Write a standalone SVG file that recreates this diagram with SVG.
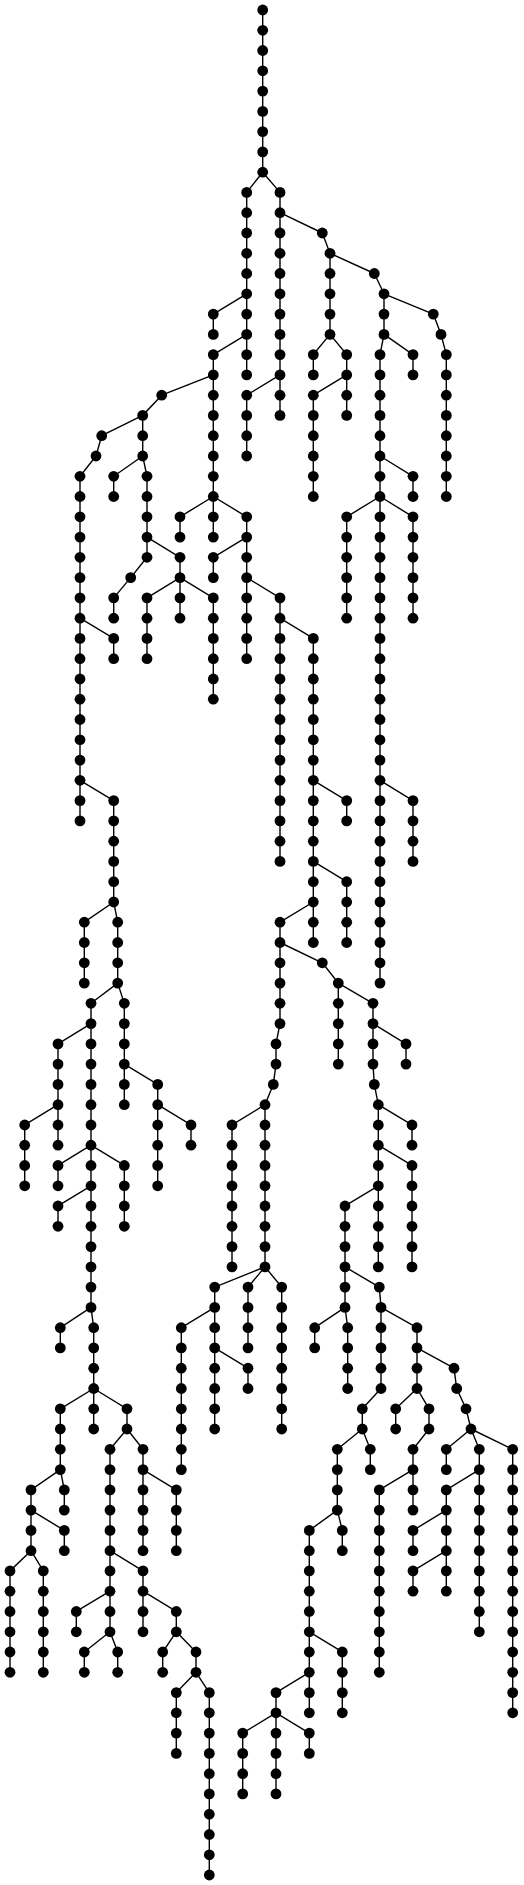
<svg xmlns="http://www.w3.org/2000/svg" width="524" height="1885" viewBox="0 0 524 1885">
<style>
#edges path{fill:none;stroke:#000;stroke-width:1.4}
circle{fill:#000}
</style>
<rect width="524" height="1885" fill="#fff"/>
<g id="edges">
<path d="M262.7 10V172.2"/>
<path d="M262.7 172.2L246.7 192.4V374.9"/>
<path d="M262.7 172.2L280 192.4V415.4"/>
<path d="M280 212.7L322.3 233"/>
<path d="M322.3 233L330 253.3V334.4"/>
<path d="M330 253.3L374.3 273.5"/>
<path d="M374.3 273.5L384 293.8V334.4"/>
<path d="M384 293.8L433.3 314.1"/>
<path d="M433.3 314.1L441 334.4"/>
<path d="M246.7 293.8L213.3 314.1V334.4"/>
<path d="M246.7 334.4L213.3 354.6V537.1"/>
<path d="M330 334.4L313.3 354.6V374.9"/>
<path d="M330 334.4L346.7 354.6V415.4"/>
<path d="M384 334.4L380 354.6V983.1"/>
<path d="M384 334.4L413 354.6V374.9"/>
<path d="M441 334.4L446.3 354.6V496.5"/>
<path d="M213.3 374.9L161.7 395.2"/>
<path d="M280 374.9L246.7 395.2V456"/>
<path d="M346.7 374.9L313.3 395.2V496.5"/>
<path d="M161.7 395.2L142.7 415.4V456"/>
<path d="M142.7 415.4L101.7 435.7"/>
<path d="M101.7 435.7L96 456"/>
<path d="M96 456L80 476.3V820.9"/>
<path d="M142.7 456L113.7 476.3V496.5"/>
<path d="M142.7 456L147 476.3V557.3"/>
<path d="M380 456L413 476.3V496.5"/>
<path d="M213.3 496.5L180 516.8V537.1"/>
<path d="M213.3 496.5L246.7 516.8V658.7"/>
<path d="M380 496.5L346.7 516.8V618.2"/>
<path d="M380 496.5L413 516.8V618.2"/>
<path d="M147 537.1L180 557.3V618.2"/>
<path d="M246.7 537.1L213.3 557.3V577.6"/>
<path d="M147 557.3L130.7 577.6"/>
<path d="M130.7 577.6L113.7 597.9V618.2"/>
<path d="M180 577.6L147 597.9V658.7"/>
<path d="M180 577.6L213.3 597.9V699.2"/>
<path d="M246.7 577.6L280 597.9V861.4"/>
<path d="M80 618.2L113.7 638.4V658.7"/>
<path d="M280 618.2L313.3 638.4V942.5"/>
<path d="M80 780.3L113.7 800.6V902"/>
<path d="M313.3 780.3L346.7 800.6V820.9"/>
<path d="M380 780.3L413 800.6V861.4"/>
<path d="M313.3 861.4L346.7 881.7V942.5"/>
<path d="M113.7 902L84.3 922.2V983.1"/>
<path d="M113.7 902L117.7 922.2V983.1"/>
<path d="M313.3 902L280 922.2V1023.6"/>
<path d="M280 942.5L322.3 962.8"/>
<path d="M322.3 962.8L338.3 983.1V1064.1"/>
<path d="M117.7 983.1L91 1003.3V1307.4"/>
<path d="M117.7 983.1L124.3 1003.3V1104.7"/>
<path d="M338.3 983.1L373 1003.3V1064.1"/>
<path d="M91 1023.6L58 1043.9V1145.2"/>
<path d="M280 1023.6L276 1043.9V1064.1"/>
<path d="M373 1023.6L406 1043.9V1064.1"/>
<path d="M124.3 1064.1L157.7 1084.4V1185.8"/>
<path d="M276 1064.1L273.3 1084.4"/>
<path d="M373 1064.1L374.3 1084.4"/>
<path d="M273.3 1084.4L265 1104.7V1266.9"/>
<path d="M374.3 1084.4L378.3 1104.7V1266.9"/>
<path d="M58 1104.7L24.7 1125V1185.8"/>
<path d="M157.7 1104.7L191 1125V1145.2"/>
<path d="M265 1104.7L232 1125V1266.9"/>
<path d="M378.3 1104.7L412 1125V1145.2"/>
<path d="M91 1145.2L58 1165.5V1185.8"/>
<path d="M91 1145.2L124.3 1165.5V1226.3"/>
<path d="M378.3 1145.2L412 1165.5V1266.9"/>
<path d="M91 1185.8L58 1206V1226.3"/>
<path d="M378.3 1185.8L345 1206V1307.4"/>
<path d="M265 1266.9L214.7 1287.1V1429"/>
<path d="M265 1266.9L248 1287.1V1347.9"/>
<path d="M265 1266.9L281.7 1287.1V1429"/>
<path d="M345 1266.9L379.3 1287.1"/>
<path d="M379.3 1287.1L381 1307.4V1388.5"/>
<path d="M91 1307.4L60.3 1327.7V1347.9"/>
<path d="M91 1307.4L93.7 1327.7V1429"/>
<path d="M214.7 1307.4L181.3 1327.7V1469.6"/>
<path d="M345 1307.4L314.7 1327.7V1347.9"/>
<path d="M345 1307.4L347.7 1327.7V1388.5"/>
<path d="M381 1307.4L417 1327.7V1388.5"/>
<path d="M214.7 1347.9L248 1368.2V1388.5"/>
<path d="M417 1347.9L454 1368.2"/>
<path d="M454 1368.2L456.7 1388.5"/>
<path d="M93.7 1388.5L60.3 1408.8V1469.6"/>
<path d="M93.7 1388.5L127 1408.8V1429"/>
<path d="M381 1388.5L362.3 1408.8V1429"/>
<path d="M417 1388.5L395.7 1408.8V1429"/>
<path d="M417 1388.5L429 1408.8V1429"/>
<path d="M456.7 1388.5L466 1408.8"/>
<path d="M466 1408.8L471 1429"/>
<path d="M127 1429L110 1449.3V1631.8"/>
<path d="M127 1429L143 1449.3V1550.7"/>
<path d="M362.3 1429L337.3 1449.3V1510.1"/>
<path d="M362.3 1429L370.3 1449.3V1469.6"/>
<path d="M429 1429L413 1449.3V1510.1"/>
<path d="M471 1429L446.3 1449.3V1469.6"/>
<path d="M471 1429L479.3 1449.3V1631.8"/>
<path d="M471 1429L512.7 1449.3V1712.8"/>
<path d="M60.3 1469.6L31 1489.9V1550.7"/>
<path d="M60.3 1469.6L64.3 1489.9V1510.1"/>
<path d="M143 1469.6L176.3 1489.9V1550.7"/>
<path d="M413 1469.6L379.3 1489.9V1672.3"/>
<path d="M479.3 1469.6L446.3 1489.9V1591.2"/>
<path d="M31 1510.1L64.3 1530.4V1550.7"/>
<path d="M337.3 1510.1L309.3 1530.4V1712.8"/>
<path d="M337.3 1510.1L342.3 1530.4V1550.7"/>
<path d="M446.3 1510.1L413 1530.4V1550.7"/>
<path d="M31 1550.7L10 1570.9V1672.3"/>
<path d="M31 1550.7L43.3 1570.9V1672.3"/>
<path d="M110 1550.7L143 1570.9V1631.8"/>
<path d="M446.3 1550.7L413 1570.9V1591.2"/>
<path d="M110 1591.2L76.3 1611.5V1631.8"/>
<path d="M143 1591.2L176.3 1611.5V1631.8"/>
<path d="M110 1631.8L84.3 1652V1672.3"/>
<path d="M110 1631.8L117.7 1652V1672.3"/>
<path d="M176.3 1631.8L162.7 1652V1672.3"/>
<path d="M176.3 1631.8L196 1652V1672.3"/>
<path d="M309.3 1631.8L342.3 1652V1712.8"/>
<path d="M196 1672.3L176.3 1692.6V1753.4"/>
<path d="M196 1672.3L209.3 1692.6V1875"/>
<path d="M309.3 1672.3L276 1692.6V1793.9"/>
<path d="M276 1712.8L242.7 1733.1V1793.9"/>
<path d="M276 1712.8L309.3 1733.1V1753.4"/>
</g>
<g id="nodes">
<g id="n1_0"><circle cx="262.7" cy="10" r="5.4"/></g>
<g id="n1_1"><circle cx="262.7" cy="30.3" r="5.4"/></g>
<g id="n1_2"><circle cx="262.7" cy="50.5" r="5.4"/></g>
<g id="n1_3"><circle cx="262.7" cy="70.8" r="5.4"/></g>
<g id="n1_4"><circle cx="262.7" cy="91.1" r="5.4"/></g>
<g id="n1_5"><circle cx="262.7" cy="111.4" r="5.4"/></g>
<g id="n1_6"><circle cx="262.7" cy="131.6" r="5.4"/></g>
<g id="n1_7"><circle cx="262.7" cy="151.9" r="5.4"/></g>
<g id="n1_8"><circle cx="262.7" cy="172.2" r="5.4"/></g>
<g id="n2_9"><circle cx="246.7" cy="192.4" r="5.4"/></g>
<g id="n2_10"><circle cx="246.7" cy="212.7" r="5.4"/></g>
<g id="n2_11"><circle cx="246.7" cy="233" r="5.4"/></g>
<g id="n2_12"><circle cx="246.7" cy="253.3" r="5.4"/></g>
<g id="n2_13"><circle cx="246.7" cy="273.5" r="5.4"/></g>
<g id="n2_14"><circle cx="246.7" cy="293.8" r="5.4"/></g>
<g id="n2_15"><circle cx="246.7" cy="314.1" r="5.4"/></g>
<g id="n2_16"><circle cx="246.7" cy="334.4" r="5.4"/></g>
<g id="n2_17"><circle cx="246.7" cy="354.6" r="5.4"/></g>
<g id="n2_18"><circle cx="246.7" cy="374.9" r="5.4"/></g>
<g id="n3_9"><circle cx="280" cy="192.4" r="5.4"/></g>
<g id="n3_10"><circle cx="280" cy="212.7" r="5.4"/></g>
<g id="n3_11"><circle cx="280" cy="233" r="5.4"/></g>
<g id="n3_12"><circle cx="280" cy="253.3" r="5.4"/></g>
<g id="n3_13"><circle cx="280" cy="273.5" r="5.4"/></g>
<g id="n3_14"><circle cx="280" cy="293.8" r="5.4"/></g>
<g id="n3_15"><circle cx="280" cy="314.1" r="5.4"/></g>
<g id="n3_16"><circle cx="280" cy="334.4" r="5.4"/></g>
<g id="n3_17"><circle cx="280" cy="354.6" r="5.4"/></g>
<g id="n3_18"><circle cx="280" cy="374.9" r="5.4"/></g>
<g id="n3_19"><circle cx="280" cy="395.2" r="5.4"/></g>
<g id="n3_20"><circle cx="280" cy="415.4" r="5.4"/></g>
<g id="n4_11"><circle cx="322.3" cy="233" r="5.4"/></g>
<g id="n5_12"><circle cx="330" cy="253.3" r="5.4"/></g>
<g id="n5_13"><circle cx="330" cy="273.5" r="5.4"/></g>
<g id="n5_14"><circle cx="330" cy="293.8" r="5.4"/></g>
<g id="n5_15"><circle cx="330" cy="314.1" r="5.4"/></g>
<g id="n5_16"><circle cx="330" cy="334.4" r="5.4"/></g>
<g id="n6_13"><circle cx="374.3" cy="273.5" r="5.4"/></g>
<g id="n7_14"><circle cx="384" cy="293.8" r="5.4"/></g>
<g id="n7_15"><circle cx="384" cy="314.1" r="5.4"/></g>
<g id="n7_16"><circle cx="384" cy="334.4" r="5.4"/></g>
<g id="n8_15"><circle cx="433.3" cy="314.1" r="5.4"/></g>
<g id="n9_16"><circle cx="441" cy="334.4" r="5.4"/></g>
<g id="n10_15"><circle cx="213.3" cy="314.1" r="5.4"/></g>
<g id="n10_16"><circle cx="213.3" cy="334.4" r="5.4"/></g>
<g id="n11_17"><circle cx="213.3" cy="354.6" r="5.4"/></g>
<g id="n11_18"><circle cx="213.3" cy="374.9" r="5.4"/></g>
<g id="n11_19"><circle cx="213.3" cy="395.2" r="5.4"/></g>
<g id="n11_20"><circle cx="213.3" cy="415.4" r="5.4"/></g>
<g id="n11_21"><circle cx="213.3" cy="435.7" r="5.4"/></g>
<g id="n11_22"><circle cx="213.3" cy="456" r="5.4"/></g>
<g id="n11_23"><circle cx="213.3" cy="476.3" r="5.4"/></g>
<g id="n11_24"><circle cx="213.3" cy="496.5" r="5.4"/></g>
<g id="n11_25"><circle cx="213.3" cy="516.8" r="5.4"/></g>
<g id="n11_26"><circle cx="213.3" cy="537.1" r="5.4"/></g>
<g id="n12_17"><circle cx="313.3" cy="354.6" r="5.4"/></g>
<g id="n12_18"><circle cx="313.3" cy="374.9" r="5.4"/></g>
<g id="n13_17"><circle cx="346.7" cy="354.6" r="5.4"/></g>
<g id="n13_18"><circle cx="346.7" cy="374.9" r="5.4"/></g>
<g id="n13_19"><circle cx="346.7" cy="395.2" r="5.4"/></g>
<g id="n13_20"><circle cx="346.7" cy="415.4" r="5.4"/></g>
<g id="n14_17"><circle cx="380" cy="354.6" r="5.4"/></g>
<g id="n14_18"><circle cx="380" cy="374.9" r="5.4"/></g>
<g id="n14_19"><circle cx="380" cy="395.2" r="5.4"/></g>
<g id="n14_20"><circle cx="380" cy="415.4" r="5.4"/></g>
<g id="n14_21"><circle cx="380" cy="435.7" r="5.4"/></g>
<g id="n14_22"><circle cx="380" cy="456" r="5.4"/></g>
<g id="n14_23"><circle cx="380" cy="476.3" r="5.4"/></g>
<g id="n14_24"><circle cx="380" cy="496.5" r="5.4"/></g>
<g id="n14_25"><circle cx="380" cy="516.8" r="5.4"/></g>
<g id="n14_26"><circle cx="380" cy="537.1" r="5.4"/></g>
<g id="n14_27"><circle cx="380" cy="557.3" r="5.4"/></g>
<g id="n14_28"><circle cx="380" cy="577.6" r="5.4"/></g>
<g id="n14_29"><circle cx="380" cy="597.9" r="5.4"/></g>
<g id="n14_30"><circle cx="380" cy="618.2" r="5.4"/></g>
<g id="n14_31"><circle cx="380" cy="638.4" r="5.4"/></g>
<g id="n14_32"><circle cx="380" cy="658.7" r="5.4"/></g>
<g id="n14_33"><circle cx="380" cy="679" r="5.4"/></g>
<g id="n14_34"><circle cx="380" cy="699.2" r="5.4"/></g>
<g id="n14_35"><circle cx="380" cy="719.5" r="5.4"/></g>
<g id="n14_36"><circle cx="380" cy="739.8" r="5.4"/></g>
<g id="n14_37"><circle cx="380" cy="760.1" r="5.4"/></g>
<g id="n14_38"><circle cx="380" cy="780.3" r="5.4"/></g>
<g id="n14_39"><circle cx="380" cy="800.6" r="5.4"/></g>
<g id="n14_40"><circle cx="380" cy="820.9" r="5.4"/></g>
<g id="n14_41"><circle cx="380" cy="841.2" r="5.4"/></g>
<g id="n14_42"><circle cx="380" cy="861.4" r="5.4"/></g>
<g id="n14_43"><circle cx="380" cy="881.7" r="5.4"/></g>
<g id="n14_44"><circle cx="380" cy="902" r="5.4"/></g>
<g id="n14_45"><circle cx="380" cy="922.2" r="5.4"/></g>
<g id="n14_46"><circle cx="380" cy="942.5" r="5.4"/></g>
<g id="n14_47"><circle cx="380" cy="962.8" r="5.4"/></g>
<g id="n14_48"><circle cx="380" cy="983.1" r="5.4"/></g>
<g id="n15_17"><circle cx="413" cy="354.6" r="5.4"/></g>
<g id="n15_18"><circle cx="413" cy="374.9" r="5.4"/></g>
<g id="n16_17"><circle cx="446.3" cy="354.6" r="5.4"/></g>
<g id="n16_18"><circle cx="446.3" cy="374.9" r="5.4"/></g>
<g id="n16_19"><circle cx="446.3" cy="395.2" r="5.4"/></g>
<g id="n16_20"><circle cx="446.3" cy="415.4" r="5.4"/></g>
<g id="n16_21"><circle cx="446.3" cy="435.7" r="5.4"/></g>
<g id="n16_22"><circle cx="446.3" cy="456" r="5.4"/></g>
<g id="n16_23"><circle cx="446.3" cy="476.3" r="5.4"/></g>
<g id="n16_24"><circle cx="446.3" cy="496.5" r="5.4"/></g>
<g id="n17_19"><circle cx="161.7" cy="395.2" r="5.4"/></g>
<g id="n18_19"><circle cx="246.7" cy="395.2" r="5.4"/></g>
<g id="n18_20"><circle cx="246.7" cy="415.4" r="5.4"/></g>
<g id="n18_21"><circle cx="246.7" cy="435.7" r="5.4"/></g>
<g id="n18_22"><circle cx="246.7" cy="456" r="5.4"/></g>
<g id="n19_19"><circle cx="313.3" cy="395.2" r="5.4"/></g>
<g id="n19_20"><circle cx="313.3" cy="415.4" r="5.4"/></g>
<g id="n19_21"><circle cx="313.3" cy="435.7" r="5.4"/></g>
<g id="n19_22"><circle cx="313.3" cy="456" r="5.4"/></g>
<g id="n19_23"><circle cx="313.3" cy="476.3" r="5.4"/></g>
<g id="n19_24"><circle cx="313.3" cy="496.5" r="5.4"/></g>
<g id="n20_20"><circle cx="142.7" cy="415.4" r="5.4"/></g>
<g id="n20_21"><circle cx="142.7" cy="435.7" r="5.4"/></g>
<g id="n20_22"><circle cx="142.7" cy="456" r="5.4"/></g>
<g id="n21_21"><circle cx="101.7" cy="435.7" r="5.4"/></g>
<g id="n22_22"><circle cx="96" cy="456" r="5.4"/></g>
<g id="n23_23"><circle cx="80" cy="476.3" r="5.4"/></g>
<g id="n23_24"><circle cx="80" cy="496.5" r="5.4"/></g>
<g id="n23_25"><circle cx="80" cy="516.8" r="5.4"/></g>
<g id="n23_26"><circle cx="80" cy="537.1" r="5.4"/></g>
<g id="n23_27"><circle cx="80" cy="557.3" r="5.4"/></g>
<g id="n23_28"><circle cx="80" cy="577.6" r="5.4"/></g>
<g id="n23_29"><circle cx="80" cy="597.9" r="5.4"/></g>
<g id="n23_30"><circle cx="80" cy="618.2" r="5.4"/></g>
<g id="n23_31"><circle cx="80" cy="638.4" r="5.4"/></g>
<g id="n23_32"><circle cx="80" cy="658.7" r="5.4"/></g>
<g id="n23_33"><circle cx="80" cy="679" r="5.4"/></g>
<g id="n23_34"><circle cx="80" cy="699.2" r="5.4"/></g>
<g id="n23_35"><circle cx="80" cy="719.5" r="5.4"/></g>
<g id="n23_36"><circle cx="80" cy="739.8" r="5.4"/></g>
<g id="n23_37"><circle cx="80" cy="760.1" r="5.4"/></g>
<g id="n23_38"><circle cx="80" cy="780.3" r="5.4"/></g>
<g id="n23_39"><circle cx="80" cy="800.6" r="5.4"/></g>
<g id="n23_40"><circle cx="80" cy="820.9" r="5.4"/></g>
<g id="n24_23"><circle cx="113.7" cy="476.3" r="5.4"/></g>
<g id="n24_24"><circle cx="113.7" cy="496.5" r="5.4"/></g>
<g id="n25_23"><circle cx="147" cy="476.3" r="5.4"/></g>
<g id="n25_24"><circle cx="147" cy="496.5" r="5.4"/></g>
<g id="n25_25"><circle cx="147" cy="516.8" r="5.4"/></g>
<g id="n25_26"><circle cx="147" cy="537.1" r="5.4"/></g>
<g id="n25_27"><circle cx="147" cy="557.3" r="5.4"/></g>
<g id="n26_23"><circle cx="413" cy="476.3" r="5.4"/></g>
<g id="n26_24"><circle cx="413" cy="496.5" r="5.4"/></g>
<g id="n27_25"><circle cx="180" cy="516.8" r="5.4"/></g>
<g id="n27_26"><circle cx="180" cy="537.1" r="5.4"/></g>
<g id="n28_25"><circle cx="246.7" cy="516.8" r="5.4"/></g>
<g id="n28_26"><circle cx="246.7" cy="537.1" r="5.4"/></g>
<g id="n28_27"><circle cx="246.7" cy="557.3" r="5.4"/></g>
<g id="n28_28"><circle cx="246.7" cy="577.6" r="5.4"/></g>
<g id="n28_29"><circle cx="246.7" cy="597.9" r="5.4"/></g>
<g id="n28_30"><circle cx="246.7" cy="618.2" r="5.4"/></g>
<g id="n28_31"><circle cx="246.7" cy="638.4" r="5.4"/></g>
<g id="n28_32"><circle cx="246.7" cy="658.7" r="5.4"/></g>
<g id="n29_25"><circle cx="346.7" cy="516.8" r="5.4"/></g>
<g id="n29_26"><circle cx="346.7" cy="537.1" r="5.4"/></g>
<g id="n29_27"><circle cx="346.7" cy="557.3" r="5.4"/></g>
<g id="n29_28"><circle cx="346.7" cy="577.6" r="5.4"/></g>
<g id="n29_29"><circle cx="346.7" cy="597.9" r="5.4"/></g>
<g id="n29_30"><circle cx="346.7" cy="618.2" r="5.4"/></g>
<g id="n30_25"><circle cx="413" cy="516.8" r="5.4"/></g>
<g id="n30_26"><circle cx="413" cy="537.1" r="5.4"/></g>
<g id="n30_27"><circle cx="413" cy="557.3" r="5.4"/></g>
<g id="n30_28"><circle cx="413" cy="577.6" r="5.4"/></g>
<g id="n30_29"><circle cx="413" cy="597.9" r="5.4"/></g>
<g id="n30_30"><circle cx="413" cy="618.2" r="5.4"/></g>
<g id="n31_27"><circle cx="180" cy="557.3" r="5.4"/></g>
<g id="n31_28"><circle cx="180" cy="577.6" r="5.4"/></g>
<g id="n31_29"><circle cx="180" cy="597.9" r="5.4"/></g>
<g id="n31_30"><circle cx="180" cy="618.2" r="5.4"/></g>
<g id="n32_27"><circle cx="213.3" cy="557.3" r="5.4"/></g>
<g id="n32_28"><circle cx="213.3" cy="577.6" r="5.4"/></g>
<g id="n33_28"><circle cx="130.7" cy="577.6" r="5.4"/></g>
<g id="n34_29"><circle cx="113.7" cy="597.9" r="5.4"/></g>
<g id="n34_30"><circle cx="113.7" cy="618.2" r="5.4"/></g>
<g id="n35_29"><circle cx="147" cy="597.9" r="5.4"/></g>
<g id="n35_30"><circle cx="147" cy="618.2" r="5.4"/></g>
<g id="n35_31"><circle cx="147" cy="638.4" r="5.4"/></g>
<g id="n35_32"><circle cx="147" cy="658.7" r="5.4"/></g>
<g id="n36_29"><circle cx="213.3" cy="597.9" r="5.4"/></g>
<g id="n36_30"><circle cx="213.3" cy="618.2" r="5.4"/></g>
<g id="n36_31"><circle cx="213.3" cy="638.4" r="5.4"/></g>
<g id="n36_32"><circle cx="213.3" cy="658.7" r="5.4"/></g>
<g id="n36_33"><circle cx="213.3" cy="679" r="5.4"/></g>
<g id="n36_34"><circle cx="213.3" cy="699.2" r="5.4"/></g>
<g id="n37_29"><circle cx="280" cy="597.9" r="5.4"/></g>
<g id="n37_30"><circle cx="280" cy="618.2" r="5.4"/></g>
<g id="n37_31"><circle cx="280" cy="638.4" r="5.4"/></g>
<g id="n37_32"><circle cx="280" cy="658.7" r="5.4"/></g>
<g id="n37_33"><circle cx="280" cy="679" r="5.4"/></g>
<g id="n37_34"><circle cx="280" cy="699.2" r="5.4"/></g>
<g id="n37_35"><circle cx="280" cy="719.5" r="5.4"/></g>
<g id="n37_36"><circle cx="280" cy="739.8" r="5.4"/></g>
<g id="n37_37"><circle cx="280" cy="760.1" r="5.4"/></g>
<g id="n37_38"><circle cx="280" cy="780.3" r="5.4"/></g>
<g id="n37_39"><circle cx="280" cy="800.6" r="5.4"/></g>
<g id="n37_40"><circle cx="280" cy="820.9" r="5.4"/></g>
<g id="n37_41"><circle cx="280" cy="841.2" r="5.4"/></g>
<g id="n37_42"><circle cx="280" cy="861.4" r="5.4"/></g>
<g id="n38_31"><circle cx="113.7" cy="638.4" r="5.4"/></g>
<g id="n38_32"><circle cx="113.7" cy="658.7" r="5.4"/></g>
<g id="n39_31"><circle cx="313.3" cy="638.4" r="5.4"/></g>
<g id="n39_32"><circle cx="313.3" cy="658.7" r="5.4"/></g>
<g id="n39_33"><circle cx="313.3" cy="679" r="5.4"/></g>
<g id="n39_34"><circle cx="313.3" cy="699.2" r="5.4"/></g>
<g id="n39_35"><circle cx="313.3" cy="719.5" r="5.4"/></g>
<g id="n39_36"><circle cx="313.3" cy="739.8" r="5.4"/></g>
<g id="n39_37"><circle cx="313.3" cy="760.1" r="5.4"/></g>
<g id="n39_38"><circle cx="313.3" cy="780.3" r="5.4"/></g>
<g id="n39_39"><circle cx="313.3" cy="800.6" r="5.4"/></g>
<g id="n39_40"><circle cx="313.3" cy="820.9" r="5.4"/></g>
<g id="n39_41"><circle cx="313.3" cy="841.2" r="5.4"/></g>
<g id="n39_42"><circle cx="313.3" cy="861.4" r="5.4"/></g>
<g id="n39_43"><circle cx="313.3" cy="881.7" r="5.4"/></g>
<g id="n39_44"><circle cx="313.3" cy="902" r="5.4"/></g>
<g id="n39_45"><circle cx="313.3" cy="922.2" r="5.4"/></g>
<g id="n39_46"><circle cx="313.3" cy="942.5" r="5.4"/></g>
<g id="n40_39"><circle cx="113.7" cy="800.6" r="5.4"/></g>
<g id="n40_40"><circle cx="113.7" cy="820.9" r="5.4"/></g>
<g id="n40_41"><circle cx="113.7" cy="841.2" r="5.4"/></g>
<g id="n40_42"><circle cx="113.7" cy="861.4" r="5.4"/></g>
<g id="n40_43"><circle cx="113.7" cy="881.7" r="5.4"/></g>
<g id="n40_44"><circle cx="113.7" cy="902" r="5.4"/></g>
<g id="n41_39"><circle cx="346.7" cy="800.6" r="5.4"/></g>
<g id="n41_40"><circle cx="346.7" cy="820.9" r="5.4"/></g>
<g id="n42_39"><circle cx="413" cy="800.6" r="5.4"/></g>
<g id="n42_40"><circle cx="413" cy="820.9" r="5.4"/></g>
<g id="n42_41"><circle cx="413" cy="841.2" r="5.4"/></g>
<g id="n42_42"><circle cx="413" cy="861.4" r="5.4"/></g>
<g id="n43_43"><circle cx="346.7" cy="881.7" r="5.4"/></g>
<g id="n43_44"><circle cx="346.7" cy="902" r="5.4"/></g>
<g id="n43_45"><circle cx="346.7" cy="922.2" r="5.4"/></g>
<g id="n43_46"><circle cx="346.7" cy="942.5" r="5.4"/></g>
<g id="n44_45"><circle cx="84.3" cy="922.2" r="5.4"/></g>
<g id="n44_46"><circle cx="84.3" cy="942.5" r="5.4"/></g>
<g id="n44_47"><circle cx="84.3" cy="962.8" r="5.4"/></g>
<g id="n44_48"><circle cx="84.3" cy="983.1" r="5.4"/></g>
<g id="n45_45"><circle cx="117.7" cy="922.2" r="5.4"/></g>
<g id="n45_46"><circle cx="117.7" cy="942.5" r="5.4"/></g>
<g id="n45_47"><circle cx="117.7" cy="962.8" r="5.4"/></g>
<g id="n45_48"><circle cx="117.7" cy="983.1" r="5.4"/></g>
<g id="n46_45"><circle cx="280" cy="922.2" r="5.4"/></g>
<g id="n46_46"><circle cx="280" cy="942.5" r="5.4"/></g>
<g id="n46_47"><circle cx="280" cy="962.8" r="5.4"/></g>
<g id="n46_48"><circle cx="280" cy="983.1" r="5.4"/></g>
<g id="n46_49"><circle cx="280" cy="1003.3" r="5.4"/></g>
<g id="n46_50"><circle cx="280" cy="1023.6" r="5.4"/></g>
<g id="n47_47"><circle cx="322.3" cy="962.8" r="5.4"/></g>
<g id="n48_48"><circle cx="338.3" cy="983.1" r="5.4"/></g>
<g id="n48_49"><circle cx="338.3" cy="1003.3" r="5.4"/></g>
<g id="n48_50"><circle cx="338.3" cy="1023.6" r="5.4"/></g>
<g id="n48_51"><circle cx="338.3" cy="1043.9" r="5.4"/></g>
<g id="n48_52"><circle cx="338.3" cy="1064.1" r="5.4"/></g>
<g id="n49_49"><circle cx="91" cy="1003.3" r="5.4"/></g>
<g id="n49_50"><circle cx="91" cy="1023.6" r="5.4"/></g>
<g id="n49_51"><circle cx="91" cy="1043.9" r="5.4"/></g>
<g id="n49_52"><circle cx="91" cy="1064.1" r="5.4"/></g>
<g id="n49_53"><circle cx="91" cy="1084.4" r="5.4"/></g>
<g id="n49_54"><circle cx="91" cy="1104.7" r="5.4"/></g>
<g id="n49_55"><circle cx="91" cy="1125" r="5.4"/></g>
<g id="n49_56"><circle cx="91" cy="1145.2" r="5.4"/></g>
<g id="n49_57"><circle cx="91" cy="1165.5" r="5.4"/></g>
<g id="n49_58"><circle cx="91" cy="1185.8" r="5.4"/></g>
<g id="n49_59"><circle cx="91" cy="1206" r="5.4"/></g>
<g id="n49_60"><circle cx="91" cy="1226.3" r="5.4"/></g>
<g id="n49_61"><circle cx="91" cy="1246.6" r="5.4"/></g>
<g id="n49_62"><circle cx="91" cy="1266.9" r="5.4"/></g>
<g id="n49_63"><circle cx="91" cy="1287.1" r="5.4"/></g>
<g id="n49_64"><circle cx="91" cy="1307.4" r="5.4"/></g>
<g id="n50_49"><circle cx="124.3" cy="1003.3" r="5.4"/></g>
<g id="n50_50"><circle cx="124.3" cy="1023.6" r="5.4"/></g>
<g id="n50_51"><circle cx="124.3" cy="1043.9" r="5.4"/></g>
<g id="n50_52"><circle cx="124.3" cy="1064.1" r="5.4"/></g>
<g id="n50_53"><circle cx="124.3" cy="1084.4" r="5.4"/></g>
<g id="n50_54"><circle cx="124.3" cy="1104.7" r="5.4"/></g>
<g id="n51_49"><circle cx="373" cy="1003.3" r="5.4"/></g>
<g id="n51_50"><circle cx="373" cy="1023.6" r="5.4"/></g>
<g id="n51_51"><circle cx="373" cy="1043.9" r="5.4"/></g>
<g id="n51_52"><circle cx="373" cy="1064.1" r="5.4"/></g>
<g id="n52_51"><circle cx="58" cy="1043.9" r="5.4"/></g>
<g id="n52_52"><circle cx="58" cy="1064.1" r="5.4"/></g>
<g id="n52_53"><circle cx="58" cy="1084.4" r="5.4"/></g>
<g id="n52_54"><circle cx="58" cy="1104.7" r="5.4"/></g>
<g id="n52_55"><circle cx="58" cy="1125" r="5.4"/></g>
<g id="n52_56"><circle cx="58" cy="1145.2" r="5.4"/></g>
<g id="n53_51"><circle cx="276" cy="1043.9" r="5.4"/></g>
<g id="n53_52"><circle cx="276" cy="1064.1" r="5.4"/></g>
<g id="n54_51"><circle cx="406" cy="1043.9" r="5.4"/></g>
<g id="n54_52"><circle cx="406" cy="1064.1" r="5.4"/></g>
<g id="n55_53"><circle cx="157.7" cy="1084.4" r="5.4"/></g>
<g id="n55_54"><circle cx="157.7" cy="1104.7" r="5.4"/></g>
<g id="n55_55"><circle cx="157.7" cy="1125" r="5.4"/></g>
<g id="n55_56"><circle cx="157.7" cy="1145.2" r="5.4"/></g>
<g id="n55_57"><circle cx="157.7" cy="1165.5" r="5.4"/></g>
<g id="n55_58"><circle cx="157.7" cy="1185.8" r="5.4"/></g>
<g id="n56_53"><circle cx="273.3" cy="1084.4" r="5.4"/></g>
<g id="n57_53"><circle cx="374.3" cy="1084.4" r="5.4"/></g>
<g id="n58_54"><circle cx="265" cy="1104.7" r="5.4"/></g>
<g id="n58_55"><circle cx="265" cy="1125" r="5.4"/></g>
<g id="n58_56"><circle cx="265" cy="1145.2" r="5.4"/></g>
<g id="n58_57"><circle cx="265" cy="1165.5" r="5.4"/></g>
<g id="n58_58"><circle cx="265" cy="1185.8" r="5.4"/></g>
<g id="n58_59"><circle cx="265" cy="1206" r="5.4"/></g>
<g id="n58_60"><circle cx="265" cy="1226.3" r="5.4"/></g>
<g id="n58_61"><circle cx="265" cy="1246.6" r="5.4"/></g>
<g id="n58_62"><circle cx="265" cy="1266.9" r="5.4"/></g>
<g id="n59_54"><circle cx="378.3" cy="1104.7" r="5.4"/></g>
<g id="n59_55"><circle cx="378.3" cy="1125" r="5.4"/></g>
<g id="n59_56"><circle cx="378.3" cy="1145.2" r="5.4"/></g>
<g id="n59_57"><circle cx="378.3" cy="1165.5" r="5.4"/></g>
<g id="n59_58"><circle cx="378.3" cy="1185.8" r="5.4"/></g>
<g id="n59_59"><circle cx="378.3" cy="1206" r="5.4"/></g>
<g id="n59_60"><circle cx="378.3" cy="1226.3" r="5.4"/></g>
<g id="n59_61"><circle cx="378.3" cy="1246.6" r="5.4"/></g>
<g id="n59_62"><circle cx="378.3" cy="1266.9" r="5.4"/></g>
<g id="n60_55"><circle cx="24.7" cy="1125" r="5.4"/></g>
<g id="n60_56"><circle cx="24.7" cy="1145.2" r="5.4"/></g>
<g id="n60_57"><circle cx="24.7" cy="1165.5" r="5.4"/></g>
<g id="n60_58"><circle cx="24.7" cy="1185.8" r="5.4"/></g>
<g id="n61_55"><circle cx="191" cy="1125" r="5.4"/></g>
<g id="n61_56"><circle cx="191" cy="1145.2" r="5.4"/></g>
<g id="n62_55"><circle cx="232" cy="1125" r="5.4"/></g>
<g id="n62_56"><circle cx="232" cy="1145.2" r="5.4"/></g>
<g id="n62_57"><circle cx="232" cy="1165.5" r="5.4"/></g>
<g id="n62_58"><circle cx="232" cy="1185.8" r="5.4"/></g>
<g id="n62_59"><circle cx="232" cy="1206" r="5.4"/></g>
<g id="n62_60"><circle cx="232" cy="1226.3" r="5.4"/></g>
<g id="n62_61"><circle cx="232" cy="1246.6" r="5.4"/></g>
<g id="n62_62"><circle cx="232" cy="1266.9" r="5.4"/></g>
<g id="n63_55"><circle cx="412" cy="1125" r="5.4"/></g>
<g id="n63_56"><circle cx="412" cy="1145.2" r="5.4"/></g>
<g id="n64_57"><circle cx="58" cy="1165.5" r="5.4"/></g>
<g id="n64_58"><circle cx="58" cy="1185.8" r="5.4"/></g>
<g id="n65_57"><circle cx="124.3" cy="1165.5" r="5.4"/></g>
<g id="n65_58"><circle cx="124.3" cy="1185.8" r="5.4"/></g>
<g id="n65_59"><circle cx="124.3" cy="1206" r="5.4"/></g>
<g id="n65_60"><circle cx="124.3" cy="1226.3" r="5.4"/></g>
<g id="n66_57"><circle cx="412" cy="1165.5" r="5.4"/></g>
<g id="n66_58"><circle cx="412" cy="1185.8" r="5.4"/></g>
<g id="n66_59"><circle cx="412" cy="1206" r="5.4"/></g>
<g id="n66_60"><circle cx="412" cy="1226.3" r="5.4"/></g>
<g id="n66_61"><circle cx="412" cy="1246.6" r="5.4"/></g>
<g id="n66_62"><circle cx="412" cy="1266.9" r="5.4"/></g>
<g id="n67_59"><circle cx="58" cy="1206" r="5.4"/></g>
<g id="n67_60"><circle cx="58" cy="1226.3" r="5.4"/></g>
<g id="n68_59"><circle cx="345" cy="1206" r="5.4"/></g>
<g id="n68_60"><circle cx="345" cy="1226.3" r="5.4"/></g>
<g id="n68_61"><circle cx="345" cy="1246.6" r="5.4"/></g>
<g id="n68_62"><circle cx="345" cy="1266.9" r="5.4"/></g>
<g id="n68_63"><circle cx="345" cy="1287.1" r="5.4"/></g>
<g id="n68_64"><circle cx="345" cy="1307.4" r="5.4"/></g>
<g id="n69_63"><circle cx="214.7" cy="1287.1" r="5.4"/></g>
<g id="n69_64"><circle cx="214.7" cy="1307.4" r="5.4"/></g>
<g id="n69_65"><circle cx="214.7" cy="1327.7" r="5.4"/></g>
<g id="n69_66"><circle cx="214.7" cy="1347.9" r="5.4"/></g>
<g id="n69_67"><circle cx="214.7" cy="1368.2" r="5.4"/></g>
<g id="n69_68"><circle cx="214.7" cy="1388.5" r="5.4"/></g>
<g id="n69_69"><circle cx="214.7" cy="1408.8" r="5.4"/></g>
<g id="n69_70"><circle cx="214.7" cy="1429" r="5.4"/></g>
<g id="n70_63"><circle cx="248" cy="1287.1" r="5.4"/></g>
<g id="n70_64"><circle cx="248" cy="1307.4" r="5.4"/></g>
<g id="n70_65"><circle cx="248" cy="1327.7" r="5.4"/></g>
<g id="n70_66"><circle cx="248" cy="1347.9" r="5.4"/></g>
<g id="n71_63"><circle cx="281.7" cy="1287.1" r="5.4"/></g>
<g id="n71_64"><circle cx="281.7" cy="1307.4" r="5.4"/></g>
<g id="n71_65"><circle cx="281.7" cy="1327.7" r="5.4"/></g>
<g id="n71_66"><circle cx="281.7" cy="1347.9" r="5.4"/></g>
<g id="n71_67"><circle cx="281.7" cy="1368.2" r="5.4"/></g>
<g id="n71_68"><circle cx="281.7" cy="1388.5" r="5.4"/></g>
<g id="n71_69"><circle cx="281.7" cy="1408.8" r="5.4"/></g>
<g id="n71_70"><circle cx="281.7" cy="1429" r="5.4"/></g>
<g id="n72_63"><circle cx="379.3" cy="1287.1" r="5.4"/></g>
<g id="n73_64"><circle cx="381" cy="1307.4" r="5.4"/></g>
<g id="n73_65"><circle cx="381" cy="1327.7" r="5.4"/></g>
<g id="n73_66"><circle cx="381" cy="1347.9" r="5.4"/></g>
<g id="n73_67"><circle cx="381" cy="1368.2" r="5.4"/></g>
<g id="n73_68"><circle cx="381" cy="1388.5" r="5.4"/></g>
<g id="n74_65"><circle cx="60.3" cy="1327.7" r="5.4"/></g>
<g id="n74_66"><circle cx="60.3" cy="1347.9" r="5.4"/></g>
<g id="n75_65"><circle cx="93.7" cy="1327.7" r="5.4"/></g>
<g id="n75_66"><circle cx="93.7" cy="1347.9" r="5.4"/></g>
<g id="n75_67"><circle cx="93.7" cy="1368.2" r="5.4"/></g>
<g id="n75_68"><circle cx="93.7" cy="1388.5" r="5.4"/></g>
<g id="n75_69"><circle cx="93.7" cy="1408.8" r="5.4"/></g>
<g id="n75_70"><circle cx="93.7" cy="1429" r="5.4"/></g>
<g id="n76_65"><circle cx="181.3" cy="1327.7" r="5.4"/></g>
<g id="n76_66"><circle cx="181.3" cy="1347.9" r="5.4"/></g>
<g id="n76_67"><circle cx="181.3" cy="1368.2" r="5.4"/></g>
<g id="n76_68"><circle cx="181.3" cy="1388.5" r="5.4"/></g>
<g id="n76_69"><circle cx="181.3" cy="1408.8" r="5.4"/></g>
<g id="n76_70"><circle cx="181.3" cy="1429" r="5.4"/></g>
<g id="n76_71"><circle cx="181.3" cy="1449.3" r="5.4"/></g>
<g id="n76_72"><circle cx="181.3" cy="1469.6" r="5.4"/></g>
<g id="n77_65"><circle cx="314.7" cy="1327.7" r="5.4"/></g>
<g id="n77_66"><circle cx="314.7" cy="1347.9" r="5.4"/></g>
<g id="n78_65"><circle cx="347.7" cy="1327.7" r="5.4"/></g>
<g id="n78_66"><circle cx="347.7" cy="1347.9" r="5.4"/></g>
<g id="n78_67"><circle cx="347.7" cy="1368.2" r="5.4"/></g>
<g id="n78_68"><circle cx="347.7" cy="1388.5" r="5.4"/></g>
<g id="n79_65"><circle cx="417" cy="1327.7" r="5.4"/></g>
<g id="n79_66"><circle cx="417" cy="1347.9" r="5.4"/></g>
<g id="n79_67"><circle cx="417" cy="1368.2" r="5.4"/></g>
<g id="n79_68"><circle cx="417" cy="1388.5" r="5.4"/></g>
<g id="n80_67"><circle cx="248" cy="1368.2" r="5.4"/></g>
<g id="n80_68"><circle cx="248" cy="1388.5" r="5.4"/></g>
<g id="n81_67"><circle cx="454" cy="1368.2" r="5.4"/></g>
<g id="n82_68"><circle cx="456.7" cy="1388.5" r="5.4"/></g>
<g id="n83_69"><circle cx="60.3" cy="1408.8" r="5.4"/></g>
<g id="n83_70"><circle cx="60.3" cy="1429" r="5.4"/></g>
<g id="n83_71"><circle cx="60.3" cy="1449.3" r="5.4"/></g>
<g id="n83_72"><circle cx="60.3" cy="1469.6" r="5.4"/></g>
<g id="n84_69"><circle cx="127" cy="1408.8" r="5.4"/></g>
<g id="n84_70"><circle cx="127" cy="1429" r="5.4"/></g>
<g id="n85_69"><circle cx="362.3" cy="1408.8" r="5.4"/></g>
<g id="n85_70"><circle cx="362.3" cy="1429" r="5.4"/></g>
<g id="n86_69"><circle cx="395.7" cy="1408.8" r="5.4"/></g>
<g id="n86_70"><circle cx="395.7" cy="1429" r="5.4"/></g>
<g id="n87_69"><circle cx="429" cy="1408.8" r="5.4"/></g>
<g id="n87_70"><circle cx="429" cy="1429" r="5.4"/></g>
<g id="n88_69"><circle cx="466" cy="1408.8" r="5.4"/></g>
<g id="n89_70"><circle cx="471" cy="1429" r="5.4"/></g>
<g id="n90_71"><circle cx="110" cy="1449.3" r="5.4"/></g>
<g id="n90_72"><circle cx="110" cy="1469.6" r="5.4"/></g>
<g id="n90_73"><circle cx="110" cy="1489.9" r="5.4"/></g>
<g id="n90_74"><circle cx="110" cy="1510.1" r="5.4"/></g>
<g id="n90_75"><circle cx="110" cy="1530.4" r="5.4"/></g>
<g id="n90_76"><circle cx="110" cy="1550.7" r="5.4"/></g>
<g id="n90_77"><circle cx="110" cy="1570.9" r="5.4"/></g>
<g id="n90_78"><circle cx="110" cy="1591.2" r="5.4"/></g>
<g id="n90_79"><circle cx="110" cy="1611.5" r="5.4"/></g>
<g id="n90_80"><circle cx="110" cy="1631.8" r="5.4"/></g>
<g id="n91_71"><circle cx="143" cy="1449.3" r="5.4"/></g>
<g id="n91_72"><circle cx="143" cy="1469.6" r="5.4"/></g>
<g id="n91_73"><circle cx="143" cy="1489.9" r="5.4"/></g>
<g id="n91_74"><circle cx="143" cy="1510.1" r="5.4"/></g>
<g id="n91_75"><circle cx="143" cy="1530.4" r="5.4"/></g>
<g id="n91_76"><circle cx="143" cy="1550.7" r="5.4"/></g>
<g id="n92_71"><circle cx="337.3" cy="1449.3" r="5.4"/></g>
<g id="n92_72"><circle cx="337.3" cy="1469.6" r="5.4"/></g>
<g id="n92_73"><circle cx="337.3" cy="1489.9" r="5.4"/></g>
<g id="n92_74"><circle cx="337.3" cy="1510.1" r="5.4"/></g>
<g id="n93_71"><circle cx="370.3" cy="1449.3" r="5.4"/></g>
<g id="n93_72"><circle cx="370.3" cy="1469.6" r="5.4"/></g>
<g id="n94_71"><circle cx="413" cy="1449.3" r="5.4"/></g>
<g id="n94_72"><circle cx="413" cy="1469.6" r="5.4"/></g>
<g id="n94_73"><circle cx="413" cy="1489.9" r="5.4"/></g>
<g id="n94_74"><circle cx="413" cy="1510.1" r="5.4"/></g>
<g id="n95_71"><circle cx="446.3" cy="1449.3" r="5.4"/></g>
<g id="n95_72"><circle cx="446.3" cy="1469.6" r="5.4"/></g>
<g id="n96_71"><circle cx="479.3" cy="1449.3" r="5.4"/></g>
<g id="n96_72"><circle cx="479.3" cy="1469.6" r="5.4"/></g>
<g id="n96_73"><circle cx="479.3" cy="1489.9" r="5.4"/></g>
<g id="n96_74"><circle cx="479.3" cy="1510.1" r="5.4"/></g>
<g id="n96_75"><circle cx="479.3" cy="1530.4" r="5.4"/></g>
<g id="n96_76"><circle cx="479.3" cy="1550.7" r="5.4"/></g>
<g id="n96_77"><circle cx="479.3" cy="1570.9" r="5.4"/></g>
<g id="n96_78"><circle cx="479.3" cy="1591.2" r="5.4"/></g>
<g id="n96_79"><circle cx="479.3" cy="1611.5" r="5.4"/></g>
<g id="n96_80"><circle cx="479.3" cy="1631.8" r="5.4"/></g>
<g id="n97_71"><circle cx="512.7" cy="1449.3" r="5.4"/></g>
<g id="n97_72"><circle cx="512.7" cy="1469.6" r="5.4"/></g>
<g id="n97_73"><circle cx="512.7" cy="1489.9" r="5.4"/></g>
<g id="n97_74"><circle cx="512.7" cy="1510.1" r="5.4"/></g>
<g id="n97_75"><circle cx="512.7" cy="1530.4" r="5.4"/></g>
<g id="n97_76"><circle cx="512.7" cy="1550.7" r="5.4"/></g>
<g id="n97_77"><circle cx="512.7" cy="1570.9" r="5.4"/></g>
<g id="n97_78"><circle cx="512.7" cy="1591.2" r="5.4"/></g>
<g id="n97_79"><circle cx="512.7" cy="1611.5" r="5.4"/></g>
<g id="n97_80"><circle cx="512.7" cy="1631.8" r="5.4"/></g>
<g id="n97_81"><circle cx="512.7" cy="1652" r="5.4"/></g>
<g id="n97_82"><circle cx="512.7" cy="1672.3" r="5.4"/></g>
<g id="n97_83"><circle cx="512.7" cy="1692.6" r="5.4"/></g>
<g id="n97_84"><circle cx="512.7" cy="1712.8" r="5.4"/></g>
<g id="n98_73"><circle cx="31" cy="1489.9" r="5.4"/></g>
<g id="n98_74"><circle cx="31" cy="1510.1" r="5.4"/></g>
<g id="n98_75"><circle cx="31" cy="1530.4" r="5.4"/></g>
<g id="n98_76"><circle cx="31" cy="1550.7" r="5.4"/></g>
<g id="n99_73"><circle cx="64.3" cy="1489.9" r="5.4"/></g>
<g id="n99_74"><circle cx="64.3" cy="1510.1" r="5.4"/></g>
<g id="n100_73"><circle cx="176.3" cy="1489.9" r="5.4"/></g>
<g id="n100_74"><circle cx="176.3" cy="1510.1" r="5.4"/></g>
<g id="n100_75"><circle cx="176.3" cy="1530.4" r="5.4"/></g>
<g id="n100_76"><circle cx="176.3" cy="1550.7" r="5.4"/></g>
<g id="n101_73"><circle cx="379.3" cy="1489.9" r="5.4"/></g>
<g id="n101_74"><circle cx="379.3" cy="1510.1" r="5.4"/></g>
<g id="n101_75"><circle cx="379.3" cy="1530.4" r="5.4"/></g>
<g id="n101_76"><circle cx="379.3" cy="1550.7" r="5.4"/></g>
<g id="n101_77"><circle cx="379.3" cy="1570.9" r="5.4"/></g>
<g id="n101_78"><circle cx="379.3" cy="1591.2" r="5.4"/></g>
<g id="n101_79"><circle cx="379.3" cy="1611.5" r="5.4"/></g>
<g id="n101_80"><circle cx="379.3" cy="1631.8" r="5.4"/></g>
<g id="n101_81"><circle cx="379.3" cy="1652" r="5.4"/></g>
<g id="n101_82"><circle cx="379.3" cy="1672.3" r="5.4"/></g>
<g id="n102_73"><circle cx="446.3" cy="1489.9" r="5.4"/></g>
<g id="n102_74"><circle cx="446.3" cy="1510.1" r="5.4"/></g>
<g id="n102_75"><circle cx="446.3" cy="1530.4" r="5.4"/></g>
<g id="n102_76"><circle cx="446.3" cy="1550.7" r="5.4"/></g>
<g id="n102_77"><circle cx="446.3" cy="1570.9" r="5.4"/></g>
<g id="n102_78"><circle cx="446.3" cy="1591.2" r="5.4"/></g>
<g id="n103_75"><circle cx="64.3" cy="1530.4" r="5.4"/></g>
<g id="n103_76"><circle cx="64.3" cy="1550.7" r="5.4"/></g>
<g id="n104_75"><circle cx="309.3" cy="1530.4" r="5.4"/></g>
<g id="n104_76"><circle cx="309.3" cy="1550.7" r="5.4"/></g>
<g id="n104_77"><circle cx="309.3" cy="1570.9" r="5.4"/></g>
<g id="n104_78"><circle cx="309.3" cy="1591.2" r="5.4"/></g>
<g id="n104_79"><circle cx="309.3" cy="1611.5" r="5.4"/></g>
<g id="n104_80"><circle cx="309.3" cy="1631.8" r="5.4"/></g>
<g id="n104_81"><circle cx="309.3" cy="1652" r="5.4"/></g>
<g id="n104_82"><circle cx="309.3" cy="1672.3" r="5.4"/></g>
<g id="n104_83"><circle cx="309.3" cy="1692.6" r="5.4"/></g>
<g id="n104_84"><circle cx="309.3" cy="1712.8" r="5.4"/></g>
<g id="n105_75"><circle cx="342.3" cy="1530.4" r="5.4"/></g>
<g id="n105_76"><circle cx="342.3" cy="1550.7" r="5.4"/></g>
<g id="n106_75"><circle cx="413" cy="1530.4" r="5.4"/></g>
<g id="n106_76"><circle cx="413" cy="1550.7" r="5.4"/></g>
<g id="n107_77"><circle cx="10" cy="1570.9" r="5.4"/></g>
<g id="n107_78"><circle cx="10" cy="1591.2" r="5.4"/></g>
<g id="n107_79"><circle cx="10" cy="1611.5" r="5.4"/></g>
<g id="n107_80"><circle cx="10" cy="1631.8" r="5.4"/></g>
<g id="n107_81"><circle cx="10" cy="1652" r="5.4"/></g>
<g id="n107_82"><circle cx="10" cy="1672.3" r="5.4"/></g>
<g id="n108_77"><circle cx="43.3" cy="1570.9" r="5.4"/></g>
<g id="n108_78"><circle cx="43.3" cy="1591.2" r="5.4"/></g>
<g id="n108_79"><circle cx="43.3" cy="1611.5" r="5.4"/></g>
<g id="n108_80"><circle cx="43.3" cy="1631.8" r="5.4"/></g>
<g id="n108_81"><circle cx="43.3" cy="1652" r="5.4"/></g>
<g id="n108_82"><circle cx="43.3" cy="1672.3" r="5.4"/></g>
<g id="n109_77"><circle cx="143" cy="1570.9" r="5.4"/></g>
<g id="n109_78"><circle cx="143" cy="1591.2" r="5.4"/></g>
<g id="n109_79"><circle cx="143" cy="1611.5" r="5.4"/></g>
<g id="n109_80"><circle cx="143" cy="1631.8" r="5.4"/></g>
<g id="n110_77"><circle cx="413" cy="1570.9" r="5.4"/></g>
<g id="n110_78"><circle cx="413" cy="1591.2" r="5.4"/></g>
<g id="n111_79"><circle cx="76.3" cy="1611.5" r="5.4"/></g>
<g id="n111_80"><circle cx="76.3" cy="1631.8" r="5.4"/></g>
<g id="n112_79"><circle cx="176.3" cy="1611.5" r="5.4"/></g>
<g id="n112_80"><circle cx="176.3" cy="1631.8" r="5.4"/></g>
<g id="n113_81"><circle cx="84.3" cy="1652" r="5.4"/></g>
<g id="n113_82"><circle cx="84.3" cy="1672.3" r="5.4"/></g>
<g id="n114_81"><circle cx="117.7" cy="1652" r="5.4"/></g>
<g id="n114_82"><circle cx="117.7" cy="1672.3" r="5.4"/></g>
<g id="n115_81"><circle cx="162.7" cy="1652" r="5.4"/></g>
<g id="n115_82"><circle cx="162.7" cy="1672.3" r="5.4"/></g>
<g id="n116_81"><circle cx="196" cy="1652" r="5.4"/></g>
<g id="n116_82"><circle cx="196" cy="1672.3" r="5.4"/></g>
<g id="n117_81"><circle cx="342.3" cy="1652" r="5.4"/></g>
<g id="n117_82"><circle cx="342.3" cy="1672.3" r="5.4"/></g>
<g id="n117_83"><circle cx="342.3" cy="1692.6" r="5.4"/></g>
<g id="n117_84"><circle cx="342.3" cy="1712.8" r="5.4"/></g>
<g id="n118_83"><circle cx="176.3" cy="1692.6" r="5.4"/></g>
<g id="n118_84"><circle cx="176.3" cy="1712.8" r="5.4"/></g>
<g id="n118_85"><circle cx="176.3" cy="1733.1" r="5.4"/></g>
<g id="n118_86"><circle cx="176.3" cy="1753.4" r="5.4"/></g>
<g id="n119_83"><circle cx="209.3" cy="1692.6" r="5.4"/></g>
<g id="n119_84"><circle cx="209.3" cy="1712.8" r="5.4"/></g>
<g id="n119_85"><circle cx="209.3" cy="1733.1" r="5.4"/></g>
<g id="n119_86"><circle cx="209.3" cy="1753.4" r="5.4"/></g>
<g id="n119_87"><circle cx="209.3" cy="1773.7" r="5.4"/></g>
<g id="n119_88"><circle cx="209.3" cy="1793.9" r="5.4"/></g>
<g id="n119_89"><circle cx="209.3" cy="1814.2" r="5.4"/></g>
<g id="n119_90"><circle cx="209.3" cy="1834.5" r="5.4"/></g>
<g id="n119_91"><circle cx="209.3" cy="1854.8" r="5.4"/></g>
<g id="n119_92"><circle cx="209.3" cy="1875" r="5.4"/></g>
<g id="n120_83"><circle cx="276" cy="1692.6" r="5.4"/></g>
<g id="n120_84"><circle cx="276" cy="1712.8" r="5.4"/></g>
<g id="n120_85"><circle cx="276" cy="1733.1" r="5.4"/></g>
<g id="n120_86"><circle cx="276" cy="1753.4" r="5.4"/></g>
<g id="n120_87"><circle cx="276" cy="1773.7" r="5.4"/></g>
<g id="n120_88"><circle cx="276" cy="1793.9" r="5.4"/></g>
<g id="n121_85"><circle cx="242.7" cy="1733.1" r="5.4"/></g>
<g id="n121_86"><circle cx="242.7" cy="1753.4" r="5.4"/></g>
<g id="n121_87"><circle cx="242.7" cy="1773.7" r="5.4"/></g>
<g id="n121_88"><circle cx="242.7" cy="1793.9" r="5.4"/></g>
<g id="n122_85"><circle cx="309.3" cy="1733.1" r="5.4"/></g>
<g id="n122_86"><circle cx="309.3" cy="1753.4" r="5.4"/></g>
</g>
</svg>
